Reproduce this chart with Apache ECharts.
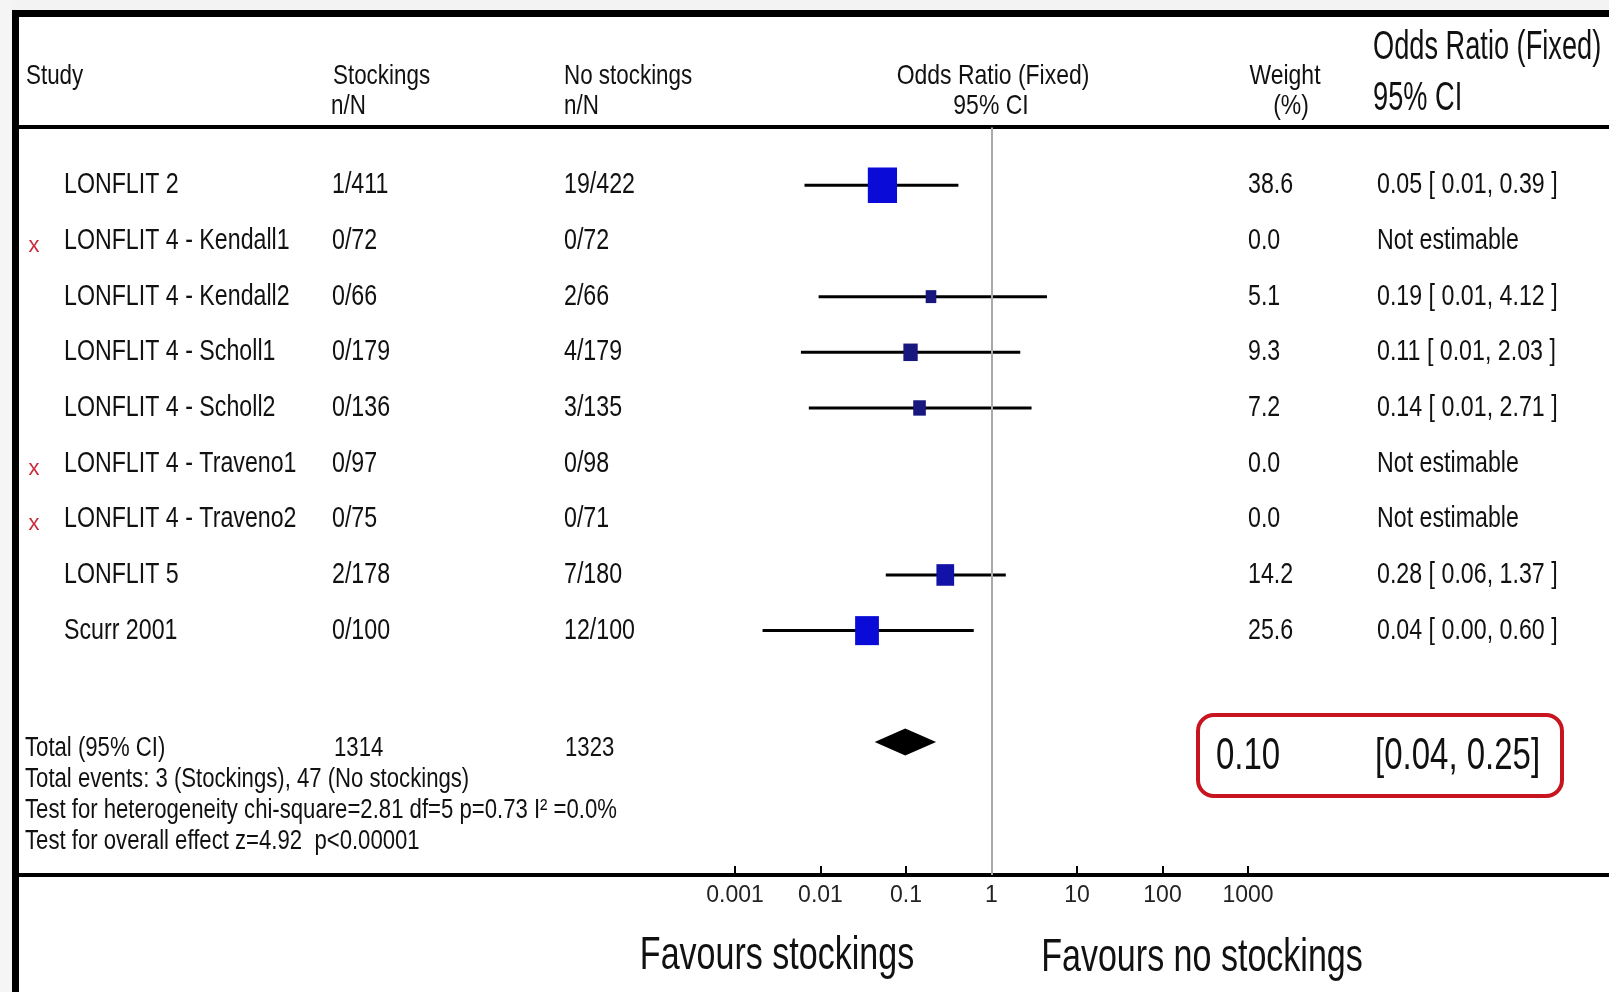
<!DOCTYPE html>
<html>
<head>
<meta charset="utf-8">
<script src="https://cdn.jsdelivr.net/npm/echarts@6/dist/echarts.min.js"></script>
<style>
html,body{margin:0;padding:0;background:#fff;}
#chart{width:1609px;height:992px;}
</style>
</head>
<body>
<div id="chart"></div>
<script>
// ---------- data ----------
const studies = ['LONFLIT 2', 'LONFLIT 4 - Kendall1', 'LONFLIT 4 - Kendall2', 'LONFLIT 4 - Scholl1',
  'LONFLIT 4 - Scholl2', 'LONFLIT 4 - Traveno1', 'LONFLIT 4 - Traveno2', 'LONFLIT 5', 'Scurr 2001'];
const excluded = [false, true, false, false, false, true, true, false, false];
const stockingsNN = ['1/411', '0/72', '0/66', '0/179', '0/136', '0/97', '0/75', '2/178', '0/100'];
const noStockingsNN = ['19/422', '0/72', '2/66', '4/179', '3/135', '0/98', '0/71', '7/180', '12/100'];
const weights = [38.6, 0.0, 5.1, 9.3, 7.2, 0.0, 0.0, 14.2, 25.6];
const orLabels = ['0.05 [ 0.01, 0.39 ]', 'Not estimable', '0.19 [ 0.01, 4.12 ]', '0.11 [ 0.01, 2.03 ]',
  '0.14 [ 0.01, 2.71 ]', 'Not estimable', 'Not estimable', '0.28 [ 0.06, 1.37 ]', '0.04 [ 0.00, 0.60 ]'];
// plotted estimates
const orPoint = [0.053, null, 0.196, 0.113, 0.144, null, null, 0.288, 0.035];
const ciLow   = [0.0065, null, 0.0095, 0.0059, 0.0073, null, null, 0.058, 0.0021];
const ciHigh  = [0.41, null, 4.45, 2.17, 2.94, null, null, 1.47, 0.62];
// total: [OR, low, high]
const totalOR = [0.098, 0.043, 0.225];
const totalText = ['0.10', '[0.04, 0.25]'];
const totalRow = ['Total (95% CI)', '1314', '1323'];
const summaryLines = ['Total events: 3 (Stockings), 47 (No stockings)',
  'Test for heterogeneity chi-square=2.81 df=5 p=0.73 I\u00B2 =0.0%',
  'Test for overall effect z=4.92  p<0.00001'];
const xTickLabels = ['0.001', '0.01', '0.1', '1', '10', '100', '1000'];
const TOTAL_INDEX = 10;

// ---------- helpers ----------
const FONT = '"Liberation Sans", Arial, sans-serif';
const INK = '#111';
function txt(x, y, s, size, sx, align, color) {
  return {
    type: 'text', x: x, y: y, scaleX: sx, z: 10,
    style: { text: s, fontSize: size, fontFamily: FONT, fill: color || INK,
      align: align || 'left', verticalAlign: 'middle' }
  };
}
const ROW_SIZE = 29, ROW_SX = 0.8;

const chart = echarts.init(document.getElementById('chart'), null, { renderer: 'canvas' });

const tableData = studies.map((s, i) => [1, i]);
const forestData = [];
orPoint.forEach((v, i) => { if (v != null) forestData.push([v, i, ciLow[i], ciHigh[i], weights[i]]); });

const option = {
  backgroundColor: '#fff',
  animation: false,
  grid: { left: 735, right: 361, top: 127.4, bottom: 117, containLabel: false },
  xAxis: {
    type: 'log', logBase: 10, min: 0.001, max: 1000, position: 'bottom',
    axisLine: { show: false, onZero: false },
    axisTick: { show: true, inside: true, length: 9, lineStyle: { color: '#000', width: 2 } },
    minorTick: { show: false },
    splitLine: { show: false },
    axisLabel: {
      margin: 9, fontSize: 23, fontFamily: FONT, color: '#222',
      formatter: function (v) { return xTickLabels[Math.round(Math.log10(v)) + 3]; }
    }
  },
  yAxis: { type: 'value', inverse: true, min: -1.04, max: 12.39, show: false },
  series: [
    {
      type: 'custom', name: 'table', data: tableData, clip: false,
      renderItem: function (params, api) {
        const i = api.value(1);
        const y = api.coord([1, i])[1];
        const ch = [
          txt(64, y, studies[i], ROW_SIZE, ROW_SX),
          txt(332, y, stockingsNN[i], ROW_SIZE, ROW_SX),
          txt(564, y, noStockingsNN[i], ROW_SIZE, ROW_SX),
          txt(1248, y, weights[i].toFixed(1), ROW_SIZE, ROW_SX),
          txt(1377, y, orLabels[i], ROW_SIZE, ROW_SX)
        ];
        if (excluded[i]) ch.push(txt(34, y + 5, 'x', 22, 1, 'center', '#cc2a3a'));
        return { type: 'group', children: ch };
      }
    },
    {
      type: 'custom', name: 'forest', data: forestData, clip: false,
      encode: { x: 0, y: 1 },
      renderItem: function (params, api) {
        const i = api.value(1);
        const p = api.coord([api.value(0), i]);
        const lo = api.coord([api.value(2), i]);
        const hi = api.coord([api.value(3), i]);
        const w = api.value(4);
        const bw = 4.7 * Math.sqrt(w), bh = bw * 1.22;
        const col = w > 20 ? '#0b0bd8' : (w > 10 ? '#1212a8' : '#17177e');
        return {
          type: 'group', children: [
            { type: 'line', shape: { x1: lo[0], y1: lo[1], x2: hi[0], y2: hi[1] },
              style: { stroke: '#000', lineWidth: 3 } },
            { type: 'rect', shape: { x: p[0] - bw / 2, y: p[1] - bh / 2, width: bw, height: bh },
              style: { fill: col } }
          ]
        };
      },
      markLine: {
        silent: true, symbol: 'none', label: { show: false },
        lineStyle: { color: '#aaa', width: 2, type: 'solid' },
        data: [{ xAxis: 1 }]
      }
    },
    {
      type: 'custom', name: 'total', data: [[totalOR[0], TOTAL_INDEX, totalOR[1], totalOR[2]]],
      clip: false, encode: { x: 0, y: 1 },
      renderItem: function (params, api) {
        const yv = api.value(1);
        const c = api.coord([api.value(0), yv]);
        const l = api.coord([api.value(2), yv]);
        const r = api.coord([api.value(3), yv]);
        const h = 13.5;
        return {
          type: 'polygon',
          shape: { points: [[l[0], c[1]], [c[0], c[1] - h], [r[0], c[1]], [c[0], c[1] + h]] },
          style: { fill: '#000' }
        };
      }
    }
  ],
  graphic: [
    // pale background strips
    { type: 'rect', shape: { x: 0, y: 0, width: 1609, height: 10 }, style: { fill: '#f3f3f3' }, silent: true },
    { type: 'rect', shape: { x: 0, y: 0, width: 12, height: 992 }, style: { fill: '#f5f5f5' }, silent: true },
    // frame
    { type: 'rect', shape: { x: 12, y: 10, width: 1597, height: 7 }, style: { fill: '#000' }, silent: true },
    { type: 'rect', shape: { x: 12, y: 10, width: 7, height: 982 }, style: { fill: '#000' }, silent: true },
    { type: 'rect', shape: { x: 19, y: 125, width: 1590, height: 4 }, style: { fill: '#000' }, silent: true },
    { type: 'rect', shape: { x: 19, y: 873, width: 1590, height: 4 }, style: { fill: '#000' }, silent: true },
    // headers
    txt(26, 76, 'Study', 28, 0.8),
    txt(333, 76, 'Stockings', 28, 0.8),
    txt(331, 106, 'n/N', 28, 0.8),
    txt(564, 76, 'No stockings', 28, 0.8),
    txt(564, 106, 'n/N', 28, 0.8),
    txt(993, 76, 'Odds Ratio (Fixed)', 28, 0.82, 'center'),
    txt(991, 106, '95% CI', 28, 0.82, 'center'),
    txt(1285, 76, 'Weight', 28, 0.82, 'center'),
    txt(1291, 106, '(%)', 28, 0.82, 'center'),
    txt(1373, 48, 'Odds Ratio (Fixed)', 40, 0.68),
    txt(1373, 99, '95% CI', 40, 0.68),
    // total row & summary
    txt(25, 749, totalRow[0], 27, 0.82),
    txt(334, 749, totalRow[1], 27, 0.82),
    txt(565, 749, totalRow[2], 27, 0.82),
    txt(25, 780, summaryLines[0], 27, 0.82),
    txt(25, 811, summaryLines[1], 27, 0.82),
    txt(25, 842, summaryLines[2], 27, 0.82),
    // highlighted total
    { type: 'rect', shape: { x: 1198, y: 715, width: 364, height: 81, r: 16 },
      style: { fill: 'none', stroke: '#c8141e', lineWidth: 4 }, z: 5 },
    txt(1216, 757, totalText[0], 44, 0.75),
    txt(1375, 757, totalText[1], 44, 0.75),
    // favours
    txt(777, 956, 'Favours stockings', 46, 0.74, 'center'),
    txt(1202, 958, 'Favours no stockings', 46, 0.74, 'center')
  ]
};
chart.setOption(option);
</script>
</body>
</html>
